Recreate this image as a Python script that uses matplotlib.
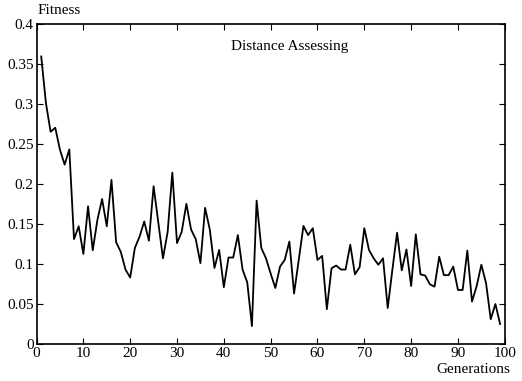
import matplotlib
matplotlib.use('Agg')
import matplotlib.pyplot as plt
import numpy as np

plt.rcParams.update({
    'font.family': 'serif',
    'font.serif': ['Liberation Serif', 'DejaVu Serif'],
    'font.size': 11,
    'xtick.direction': 'in',
    'ytick.direction': 'in',
    'xtick.top': True,
    'ytick.right': True,
})

# fitness per generation
generations = np.arange(1, 100)
fitness = [
    0.359, 0.301, 0.265, 0.270, 0.2425, 0.224, 0.243, 0.131, 0.147, 0.1125,
    0.172, 0.117, 0.155, 0.181, 0.147, 0.205, 0.127, 0.115, 0.093, 0.083,
    0.120, 0.134, 0.153, 0.129, 0.197, 0.152, 0.107, 0.140, 0.214, 0.126,
    0.140, 0.175, 0.143, 0.131, 0.101, 0.170, 0.143, 0.095, 0.1175, 0.071,
    0.108, 0.108, 0.136, 0.093, 0.077, 0.0225, 0.179, 0.120, 0.107, 0.088,
    0.070, 0.0967, 0.105, 0.128, 0.063, 0.105, 0.1475, 0.136, 0.1446, 0.105,
    0.110, 0.0435, 0.0946, 0.098, 0.093, 0.093, 0.124, 0.087, 0.096, 0.1446,
    0.1175, 0.107, 0.099, 0.107, 0.045, 0.093, 0.139, 0.092, 0.118, 0.0725,
    0.137, 0.087, 0.0855, 0.0746, 0.0717, 0.109, 0.086, 0.086, 0.0967, 0.0675,
    0.0675, 0.1167, 0.053, 0.0725, 0.099, 0.076, 0.031, 0.050, 0.025,
]
xticks = np.arange(0, 101, 10)
yticks = [0, 0.05, 0.1, 0.15, 0.2, 0.25, 0.3, 0.35, 0.4]
ytick_labels = ['0', '0.05', '0.1', '0.15', '0.2', '0.25', '0.3', '0.35', '0.4']

fig = plt.figure(figsize=(5.22, 3.81), dpi=100)
ax = fig.add_axes([0.070, 0.097, 0.897, 0.841])
ax.plot(generations, fitness, color='black', linewidth=1.3)

ax.set_xlim(0, 100)
ax.set_ylim(0, 0.4)
ax.set_xticks(xticks)
ax.set_yticks(yticks)
ax.set_yticklabels(ytick_labels)
ax.tick_params(length=4, width=0.8, pad=2)
for s in ax.spines.values():
    s.set_linewidth(1.2)

ax.text(54, 0.371, 'Distance Assessing', ha='center', va='center')
fig.text(0.071, 0.973, 'Fitness', ha='left', va='center')
fig.text(0.978, 0.030, 'Generations', ha='right', va='center')

fig.savefig('out.png', dpi=100)
